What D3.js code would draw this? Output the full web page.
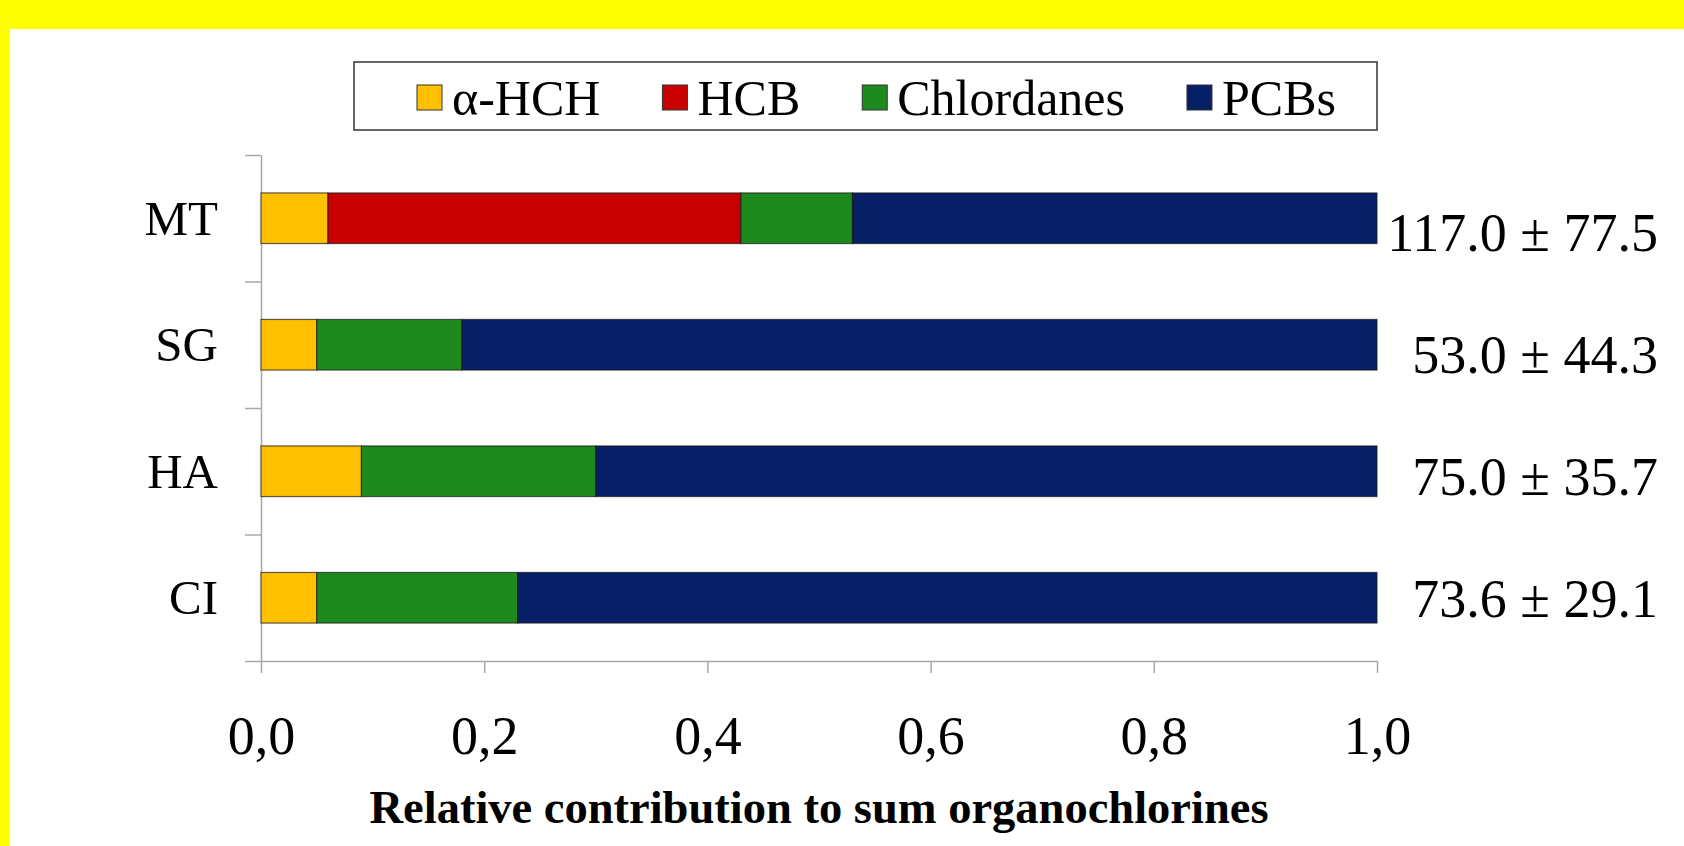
<!DOCTYPE html>
<html>
<head>
<meta charset="utf-8">
<script src="https://cdn.jsdelivr.net/npm/d3@7"></script>
<style>
	body { margin: 0; background: #fff; }
	svg text { font-family: "Liberation Serif", "Times New Roman", serif; fill: #000; }
</style>
</head>
<body>
<div id="chart"></div>
<script>
// sites, top to bottom
var sites = ["MT", "SG", "HA", "CI"];
// relative contribution of each compound class (fractions of sum OCs)
var alphaHCH = [0.06, 0.05, 0.09, 0.05];
var hcb = [0.37, 0.00, 0.00, 0.00];
var chlordanes = [0.10, 0.13, 0.21, 0.18];
var pcbs = [0.47, 0.82, 0.70, 0.77];
// sum organochlorines, mean ± sd
var totals = ["117.0 ± 77.5", "53.0 ± 44.3", "75.0 ± 35.7", "73.6 ± 29.1"];
var keys = ["aHCH", "HCB", "Chlordanes", "PCBs"];
var legendLabels = ["α-HCH", "HCB", "Chlordanes", "PCBs"];
var xTicks = [0, 0.2, 0.4, 0.6, 0.8, 1.0];

const
	W = 1684, H = 846,
	LEFT = 261, RIGHT = 1377, TOP = 155, BOTTOM = 661,
	colors = ["#FFC000", "#C80000", "#1E8A1E", "#071F66"];

var svg = d3.select("#chart").append("svg")
	.attr("width", W)
	.attr("height", H);

// yellow frame
svg.append("rect").attr("width", W).attr("height", H).attr("fill", "#FFFF00");
svg.append("rect").attr("x", 10).attr("y", 29).attr("width", W - 10).attr("height", H - 29).attr("fill", "#fff");

var rows = sites.map(function(s, i) {
	return {site: s, aHCH: alphaHCH[i], HCB: hcb[i], Chlordanes: chlordanes[i], PCBs: pcbs[i], total: totals[i]};
});

var x = d3.scaleLinear().domain([0, 1]).range([LEFT, RIGHT]);
var y = d3.scaleBand().domain(sites).range([TOP, BOTTOM]).paddingInner(0.6).paddingOuter(0.3);
var yEdges = d3.scaleLinear().domain([0, sites.length]).range([TOP, BOTTOM]);
var yLabel = d3.scalePoint().domain(sites).range([251, 617]);

// y axis: ticks on category boundaries
svg.append("g")
	.attr("class", "axis")
	.attr("transform", "translate(" + LEFT + ",0)")
	.call(d3.axisLeft(yEdges).ticks(sites.length).tickSize(16).tickSizeOuter(0).tickFormat(""));

// x axis
var xAxisG = svg.append("g")
	.attr("class", "axis")
	.attr("transform", "translate(0," + BOTTOM + ")")
	.call(d3.axisBottom(x).tickValues(xTicks).tickSize(12).tickSizeOuter(0).tickPadding(43)
		.tickFormat(function(d) { return d3.format(".1f")(d).replace(".", ","); }));

svg.selectAll(".axis path, .axis line").attr("stroke", "#a8a8a8").attr("stroke-width", 1.5);
xAxisG.selectAll("text")
	.attr("font-family", null)
	.style("font-size", "54px")
	.attr("fill", "#000");

// category labels
svg.append("g")
	.attr("transform", "translate(" + LEFT + ",0)")
	.call(d3.axisLeft(y).tickSize(0).tickPadding(43))
	.call(function(g) { g.select(".domain").remove(); })
	.selectAll("text")
	.attr("font-family", null)
	.style("font-size", "49px")
	.attr("dy", "0.34em")
	.attr("fill", "#000");

// stacked bars
var series = d3.stack().keys(keys)(rows);
svg.append("g").selectAll("g")
	.data(series)
	.enter().append("g")
	.attr("fill", function(d, i) { return colors[i]; })
	.selectAll("rect")
	.data(function(d) { return d.filter(function(p) { return p[1] - p[0] > 0; }); })
	.enter().append("rect")
	.attr("x", function(d) { return x(d[0]); })
	.attr("y", function(d) { return y(d.data.site); })
	.attr("width", function(d) { return x(d[1]) - x(d[0]); })
	.attr("height", y.bandwidth())
	.attr("stroke", "#1a1a1a")
	.attr("stroke-opacity", 0.7)
	.attr("stroke-width", 1.2);

// totals at the right
svg.append("g").selectAll("text")
	.data(rows)
	.enter().append("text")
	.attr("x", 1658)
	.attr("y", function(d) { return yLabel(d.site); })
	.attr("text-anchor", "end")
	.style("font-size", "54px")
	.text(function(d) { return d.total; });

// axis title
svg.append("text")
	.attr("x", (LEFT + RIGHT) / 2)
	.attr("y", 823)
	.attr("text-anchor", "middle")
	.style("font-size", "46.5px")
	.style("font-weight", "bold")
	.text("Relative contribution to sum organochlorines");

// legend
var legend = svg.append("g").attr("class", "legend");
legend.append("rect")
	.attr("x", 354).attr("y", 62)
	.attr("width", 1377 - 354).attr("height", 68)
	.attr("fill", "none")
	.attr("stroke", "#333")
	.attr("stroke-width", 1.5);

var items = legend.selectAll(".item")
	.data(legendLabels)
	.enter().append("g")
	.attr("class", "item");
items.append("rect")
	.attr("y", 85)
	.attr("width", 25)
	.attr("height", 25)
	.attr("fill", function(d, i) { return colors[i]; })
	.attr("stroke", "#333")
	.attr("stroke-width", 1);
items.append("text")
	.attr("x", 35)
	.attr("y", 115)
	.style("font-size", "50px")
	.text(function(d) { return d; });

// place legend items one after another
var cursor = 417;
items.each(function() {
	var g = d3.select(this);
	g.attr("transform", "translate(" + cursor + ",0)");
	cursor += 35 + g.select("text").node().getComputedTextLength() + 62;
});
</script>
</body>
</html>
